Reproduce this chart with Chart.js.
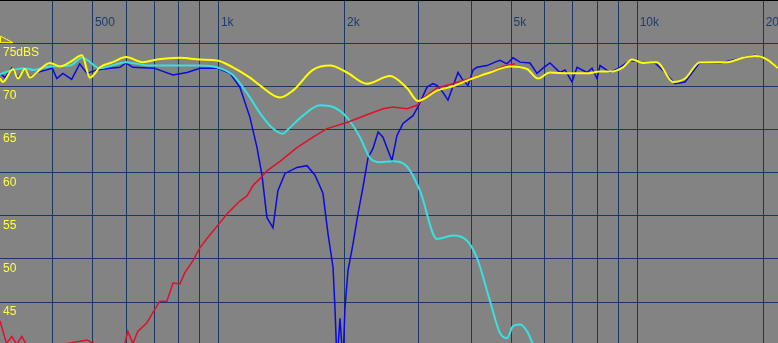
<!DOCTYPE html>
<html lang="en">
<head>
<meta charset="UTF-8">
<title>Frequency response</title>
<script src="https://cdn.jsdelivr.net/npm/chart.js"></script>
<style>
  body { margin: 0; padding: 0; background: #838383; }
  #box { width: 778px; height: 343px; position: relative; background: #838383; }
</style>
</head>
<body>
<div id="box"><canvas id="chart"></canvas></div>
<script>
// grid lines and labels
const freqGrid = [400, 500, 600, 700, 800, 900, 1000, 2000, 3000, 4000, 5000, 6000, 7000, 8000, 9000, 10000, 20000];
const freqLabelValues = [500, 1000, 2000, 5000, 10000, 20000];
const freqLabelText = ["500", "1k", "2k", "5k", "10k", "20k"];
const dbGrid = [45, 50, 55, 60, 65, 70, 75];
const dbLabelText = ["45", "50", "55", "60", "65", "70", "75dBS"];

// yellow trace
const yellowFreq = [300,305,322,331,344,354,367,395,417,441,471,492,520,558,600,658,711,807,901,989,1080,1186,1253,1399,1502,1677,1842,2022,2257,2562,2813,2988,3318,3623,3978,4441,4958,5443,5783,6175,6783,7571,8132,8594,9229,9696,10302,11125,12147,12980,14100,16355,17857,19080,20380,21600];
const yellowDb = [70.9,70.5,72.0,70.9,72.0,71.0,71.6,72.7,72.3,72.8,73.6,71.0,72.2,72.8,73.4,72.8,73.1,73.3,73.1,73.0,72.2,71.0,70.1,68.7,69.5,71.9,72.4,71.6,70.3,71.2,69.8,68.3,69.5,70.0,70.8,71.6,72.3,72.0,70.9,71.6,71.5,71.5,71.7,71.7,72.2,73.1,72.7,72.8,70.5,70.9,72.8,72.8,73.3,73.5,73.1,72.1];

// cyan trace
const cyanFreq = [300,322,344,360,395,441,471,520,600,684,777,901,989,1080,1167,1253,1346,1422,1462,1587,1743,1873,2022,2172,2295,2424,2604,2813,3021,3318,3623,3913,4134,4441,4692,4875,5039,5238,5443,5626];
const cyanDb = [71.4,71.9,72.1,71.9,72.3,72.4,73.3,72.1,72.8,72.4,72.4,72.4,72.2,71.3,69.2,66.9,65.1,64.5,65.0,66.6,67.8,67.6,66.4,64.1,61.7,61.2,61.3,60.7,57.9,52.3,52.7,52.1,50.1,45.1,41.4,40.8,42.2,42.4,41.6,40.1];

// blue trace
const blueFreq = [300,308,320,331,344,354,367,388,400,410,424,445,465,484,511,549,580,600,623,700,777,839,901,989,1062,1122,1186,1233,1267,1302,1346,1383,1438,1536,1623,1696,1772,1822,1873,1893,1914,1946,1978,2000,2033,2090,2148,2208,2270,2333,2400,2465,2533,2590,2662,2752,2907,2988,3140,3245,3318,3428,3524,3724,3827,3934,4045,4134,4368,4564,4692,4875,5039,5238,5534,5750,5943,6175,6527,6709,6972,7166,7571,7783,8000,8132,8594,9079,9590,10132,11005,11627,12286,12980,14100,15735,17857,19080,20380,21600];
const blueDb = [71.5,71.0,72.1,71.0,72.1,71.0,71.6,71.9,72.1,70.9,71.5,70.8,72.6,71.5,71.9,72.1,72.2,72.7,72.2,72.1,71.3,71.6,72.1,72.1,71.5,69.9,66.4,62.9,59.7,54.8,53.6,57.9,59.9,60.6,60.8,59.7,57.6,52.9,49.0,44.3,38,43.1,38,44.3,48.6,51.7,55.2,58.3,61.7,62.8,64.7,64.1,62.6,61.4,64.3,65.7,66.6,67.6,69.9,70.3,70.1,69.3,68.4,71.6,70.7,70.1,71.9,72.2,72.4,72.8,73.0,72.6,73.3,72.8,72.7,71.5,72.1,72.7,71.6,71.9,70.5,72.2,71.6,72.1,70.9,72.4,71.6,72.2,73.0,72.8,72.7,71.6,70.3,70.5,72.8,72.7,73.3,73.6,73.1,72.1];

// red trace
const redFreq = [300,305,311,320,329,338,348,363,424,484,549,596,606,623,640,673,700,723,751,777,807,829,867,901,952,1006,1045,1080,1122,1167,1206,1253,1302,1399,1536,1677,1811,2022,2257,2465,2604,2813,2972,3072,3318,3563,3978,4368,4770,5095];
const redDb = [42.8,41.6,40.2,41.0,40.1,41.0,40.0,39.3,40.1,40.6,39.3,40.2,41.6,40.2,41.6,42.6,44.0,45.1,45.1,47.2,47.1,48.4,49.8,51.3,52.8,54.2,55.2,55.9,56.7,57.3,58.5,59.3,60.2,61.3,62.9,64.1,65.1,65.8,66.7,67.4,67.6,67.4,67.8,68.6,69.8,70.2,70.9,71.5,72.3,72.6];

function points(freqs, dbs) {
    return freqs.map((f, i) => ({ x: f, y: dbs[i] }));
}

// labels drawn inside the plot, like the analyser screen
const labelPlugin = {
    id: "screenLabels",
    afterDraw(chart) {
        const { ctx, scales: { x, y } } = chart;
        ctx.save();
        ctx.fillStyle = "#000";
        ctx.fillRect(0, 0, chart.width, 1);
        ctx.font = '12px "Liberation Sans", Arial, sans-serif';
        ctx.fillStyle = "#1f3c6e";
        freqLabelValues.forEach((v, i) => {
            ctx.fillText(freqLabelText[i], x.getPixelForValue(v) + 2, 26);
        });
        ctx.fillStyle = "#ffff40";
        dbGrid.forEach((v, i) => {
            ctx.fillText(dbLabelText[i], 3, y.getPixelForValue(v) + 13);
        });
        // reference level marker
        const ry = y.getPixelForValue(75);
        ctx.strokeStyle = "#ffff00";
        ctx.lineWidth = 1;
        ctx.beginPath();
        ctx.moveTo(0.5, ry - 7);
        ctx.lineTo(13, ry - 0.5);
        ctx.lineTo(0.5, ry - 0.5);
        ctx.closePath();
        ctx.stroke();
        ctx.restore();
    }
};

const gridColor = "#1a3866";

new Chart(document.getElementById("chart"), {
    type: "line",
    data: {
        datasets: [
            { label: "yellow", data: points(yellowFreq, yellowDb), borderColor: "#ffff00", borderWidth: 2, cubicInterpolationMode: "monotone" },
            { label: "red", data: points(redFreq, redDb), borderColor: "#e0102a", borderWidth: 1.5 },
            { label: "cyan", data: points(cyanFreq, cyanDb), borderColor: "#38e0e0", borderWidth: 2, cubicInterpolationMode: "monotone" },
            { label: "blue", data: points(blueFreq, blueDb), borderColor: "#0a0ae0", borderWidth: 1.5 }
        ]
    },
    options: {
        responsive: true,
        maintainAspectRatio: false,
        animation: false,
        layout: { padding: 0 },
        elements: { point: { radius: 0 } },
        plugins: { legend: { display: false }, tooltip: { enabled: false } },
        scales: {
            x: {
                type: "logarithmic",
                min: 300,
                max: 21640,
                afterBuildTicks: (s) => { s.ticks = freqGrid.map((v) => ({ value: v })); },
                ticks: { display: false },
                grid: { color: gridColor, lineWidth: 1, drawTicks: false },
                border: { display: false }
            },
            y: {
                min: 40.25,
                max: 80,
                afterBuildTicks: (s) => { s.ticks = dbGrid.map((v) => ({ value: v })); },
                ticks: { display: false },
                grid: { color: gridColor, lineWidth: 1, drawTicks: false },
                border: { display: false }
            }
        }
    },
    plugins: [labelPlugin]
});
</script>
</body>
</html>
